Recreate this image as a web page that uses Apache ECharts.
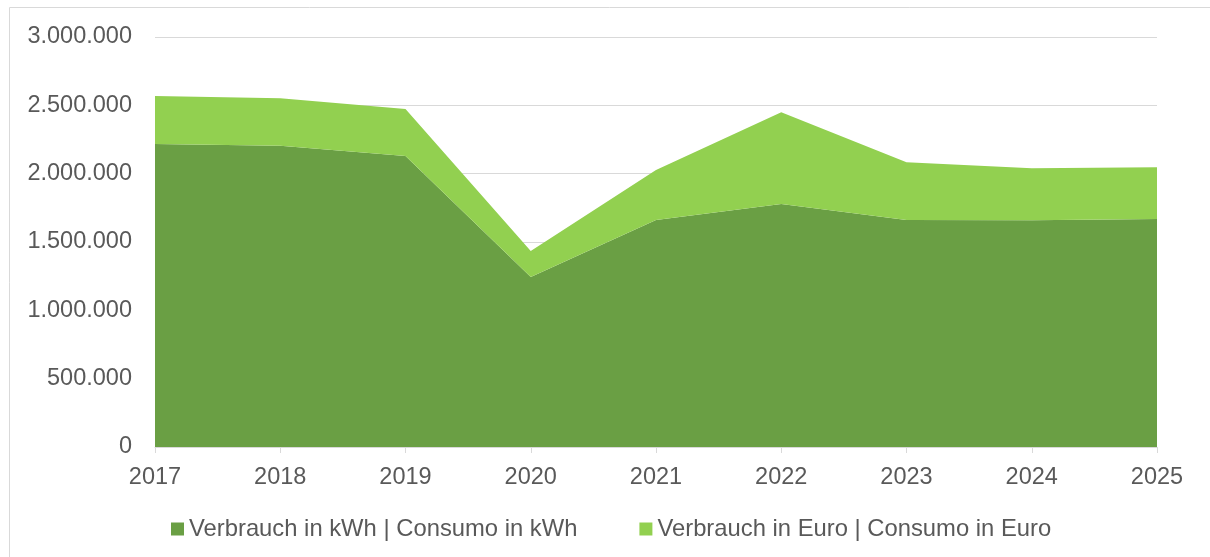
<!DOCTYPE html>
<html>
<head>
    <meta charset="utf-8">
    <title>Verbrauch | Consumo</title>
    <script src="https://cdn.jsdelivr.net/npm/echarts@6/dist/echarts.min.js"></script>
    <style>
        html, body { margin: 0; padding: 0; background: #fff; }
        #chart_div { width: 1210px; height: 557px; }
    </style>
</head>
<body>
    <div id="chart_div"></div>

    <script>
        const years = ['2017', '2018', '2019', '2020', '2021', '2022', '2023', '2024', '2025'];
        const kwhValues = [2217000, 2205000, 2129000, 1244000, 1661000, 1778000, 1661000, 1659000, 1668000];
        const euroValues = [351000, 346000, 344000, 190000, 366000, 671000, 422000, 380000, 379000];
        const seriesNames = ['Verbrauch in kWh | Consumo in kWh', 'Verbrauch in Euro | Consumo in Euro'];

        const textColor = '#595959';
        const font = '"Liberation Sans", Arial, sans-serif';

        function formatDots(v) {
            return String(v).replace(/\B(?=(\d{3})+(?!\d))/g, '.');
        }

        const myChart = echarts.init(document.getElementById('chart_div'));

        const option = {
            animation: false,
            textStyle: { fontFamily: font },
            graphic: [
                { type: 'line', shape: { x1: 9.5, y1: 7.5, x2: 1210, y2: 7.5 }, style: { stroke: '#d9d9d9', lineWidth: 1 } },
                { type: 'line', shape: { x1: 9.5, y1: 7.5, x2: 9.5, y2: 557 }, style: { stroke: '#d9d9d9', lineWidth: 1 } }
            ],
            legend: {
                bottom: 11,
                left: 166,
                itemWidth: 13,
                itemHeight: 13,
                itemGap: 62,
                icon: 'rect',
                textStyle: { color: textColor, fontSize: 23.8, fontFamily: font },
                data: seriesNames
            },
            grid: {
                left: 155,
                right: 53,
                top: 37,
                bottom: 110
            },
            xAxis: {
                type: 'category',
                boundaryGap: false,
                data: years,
                axisLine: { lineStyle: { color: '#d9d9d9', width: 1 } },
                axisTick: { show: true, length: 6, lineStyle: { color: '#d9d9d9' } },
                axisLabel: { color: textColor, fontSize: 23.5, margin: 19 }
            },
            yAxis: {
                type: 'value',
                min: 0,
                max: 3000000,
                interval: 500000,
                axisLine: { show: false },
                axisTick: { show: false },
                splitLine: { lineStyle: { color: '#d9d9d9', width: 1 } },
                axisLabel: {
                    color: textColor,
                    fontSize: 23.5,
                    margin: 23,
                    formatter: formatDots
                }
            },
            series: [
                {
                    name: seriesNames[0],
                    type: 'line',
                    stack: 'total',
                    data: kwhValues,
                    symbol: 'none',
                    lineStyle: { width: 0 },
                    itemStyle: { color: '#6a9f44' },
                    areaStyle: { color: '#6a9f44', opacity: 1 }
                },
                {
                    name: seriesNames[1],
                    type: 'line',
                    stack: 'total',
                    data: euroValues,
                    symbol: 'none',
                    lineStyle: { width: 0 },
                    itemStyle: { color: '#92d050' },
                    areaStyle: { color: '#92d050', opacity: 1 }
                }
            ]
        };

        myChart.setOption(option);
    </script>
</body>
</html>
